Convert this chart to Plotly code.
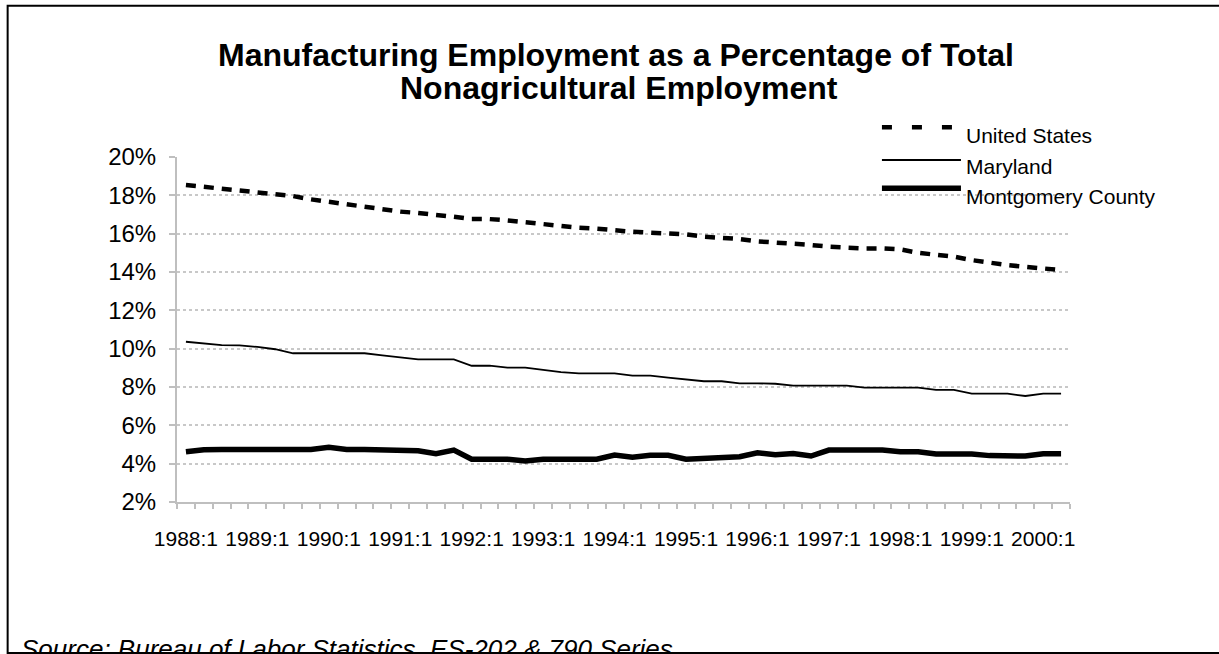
import plotly.graph_objects as go

# ---------------- data ----------------
quarters = [f"{y}:{q}" for y in range(1988, 2001) for q in range(1, 5)][:50]  # 1988:1 .. 2000:2
tick_labels = [q if q.endswith(":1") else "" for q in quarters]

series_names = ["United States", "Maryland", "Montgomery County"]

us = [18.54, 18.45, 18.33, 18.24, 18.19, 18.10, 17.96, 17.79, 17.65, 17.55,
      17.42, 17.27, 17.15, 17.08, 17.00, 16.88, 16.76, 16.76, 16.69, 16.59,
      16.50, 16.40, 16.31, 16.26, 16.17, 16.10, 16.05, 16.03, 15.96, 15.84,
      15.79, 15.72, 15.60, 15.55, 15.45, 15.41, 15.32, 15.27, 15.23, 15.23,
      15.18, 15.00, 14.90, 14.80, 14.62, 14.48, 14.36, 14.27, 14.19, 14.10]

maryland = [10.36, 10.28, 10.19, 10.17, 10.09, 9.97, 9.76, 9.76, 9.76, 9.76,
            9.76, 9.65, 9.55, 9.44, 9.44, 9.44, 9.11, 9.11, 9.01, 9.01,
            8.89, 8.78, 8.71, 8.71, 8.71, 8.59, 8.59, 8.49, 8.38, 8.30,
            8.30, 8.19, 8.19, 8.17, 8.07, 8.07, 8.07, 8.07, 7.97, 7.97,
            7.97, 7.97, 7.85, 7.85, 7.65, 7.65, 7.65, 7.53, 7.65, 7.65]

montgomery = [4.62, 4.73, 4.74, 4.74, 4.74, 4.74, 4.74, 4.74, 4.85, 4.74,
              4.74, 4.74, 4.74, 4.67, 4.52, 4.71, 4.23, 4.23, 4.23, 4.14,
              4.23, 4.23, 4.23, 4.23, 4.45, 4.33, 4.44, 4.44, 4.23, 4.26,
              4.36, 4.36, 4.57, 4.47, 4.53, 4.40, 4.71, 4.71, 4.71, 4.71,
              4.62, 4.62, 4.50, 4.50, 4.50, 4.42, 4.40, 4.40, 4.52, 4.52]

y_ticks = [2, 4, 6, 8, 10, 12, 14, 16, 18, 20]
y_tick_text = [f"{v}%" for v in y_ticks]

title_lines = ["Manufacturing Employment as a Percentage of Total",
               "Nonagricultural Employment"]
source_note = "Source: Bureau of Labor Statistics, ES-202 & 790 Series"

# ---------------- layout geometry ----------------
W, H = 1219, 654
L, R = 177.3, 1070.0   # plot area left/right px
T, B = 157.0, 502.0    # plot area top/bottom px
FONT = "Liberation Sans, Arial, sans-serif"


def px(xp):
    return (xp - L) / (R - L)


def py(yp):
    return (B - yp) / (B - T)


styles = [
    dict(color="black", width=4.5, dash="10px,8px"),
    dict(color="black", width=1.8),
    dict(color="black", width=5.5),
]
legend_dash = ["10px,20px", None, None]

fig = go.Figure()
for name, vals, st in zip(series_names, [us, maryland, montgomery], styles):
    fig.add_trace(go.Scatter(x=quarters, y=vals, mode="lines", name=name,
                             line=st, showlegend=False))

# manual legend (long line samples as in the original)
leg_line_y = [127.3, 160.0, 188.3]
leg_text_y = [136.0, 166.5, 196.5]
for i, name in enumerate(series_names):
    line = dict(color="black", width=styles[i]["width"])
    if legend_dash[i]:
        line["dash"] = legend_dash[i]
    fig.add_shape(type="line", xref="paper", yref="paper",
                  x0=px(882), x1=px(961), y0=py(leg_line_y[i]), y1=py(leg_line_y[i]),
                  line=line)
    fig.add_annotation(text=name, xref="paper", yref="paper",
                       x=px(964), y=py(leg_text_y[i]), xanchor="left", yanchor="middle",
                       showarrow=False, font=dict(family=FONT, size=21, color="black"))

# title (two lines, placed separately to keep the original line spacing)
for txt, yc, xc in zip(title_lines, [54.5, 88.0], [616.5, 619.0]):
    fig.add_annotation(text=f"<b>{txt}</b>", xref="paper", yref="paper",
                       x=px(xc), y=py(yc), xanchor="center", yanchor="middle",
                       showarrow=False, font=dict(family=FONT, size=32, color="black"))

# source note (clipped by frame bottom as in the original)
fig.add_annotation(text=f"<i>{source_note}</i>",
                   xref="paper", yref="paper", x=px(19), y=py(649), xanchor="left", yanchor="middle",
                   showarrow=False, font=dict(family=FONT, size=26, color="black"))

# outer frame
fig.add_shape(type="rect", xref="paper", yref="paper",
              x0=px(8), x1=px(1225), y0=py(5.7), y1=py(653),
              line=dict(color="black", width=2), layer="above")

fig.update_layout(
    width=W, height=H,
    margin=dict(l=L, r=W - R, t=T, b=H - B, pad=0),
    paper_bgcolor="white", plot_bgcolor="white",
    font=dict(family=FONT, color="black"),
    showlegend=False,
    xaxis=dict(
        type="category", range=[-0.5, len(quarters) - 0.5],
        tickmode="array", tickvals=quarters, ticktext=tick_labels,
        tickson="boundaries", ticks="outside", ticklen=5, tickwidth=1.5, tickcolor="#bfbfbf",
        showline=True, linecolor="#bfbfbf", linewidth=2, showgrid=False,
        tickfont=dict(family=FONT, size=21, color="black"), tickangle=0,
        ticklabelstandoff=17,
    ),
    yaxis=dict(
        range=[2, 20], tickmode="array", tickvals=y_ticks, ticktext=y_tick_text,
        ticks="outside", ticklen=6, tickwidth=2, tickcolor="#bfbfbf",
        showline=True, linecolor="#bfbfbf", linewidth=2,
        showgrid=True, gridcolor="#c8c8c8", gridwidth=1.5, griddash="dot",
        zeroline=False,
        tickfont=dict(family=FONT, size=24, color="black"),
        ticklabelstandoff=8,
    ),
)

fig.write_html("out.html")
